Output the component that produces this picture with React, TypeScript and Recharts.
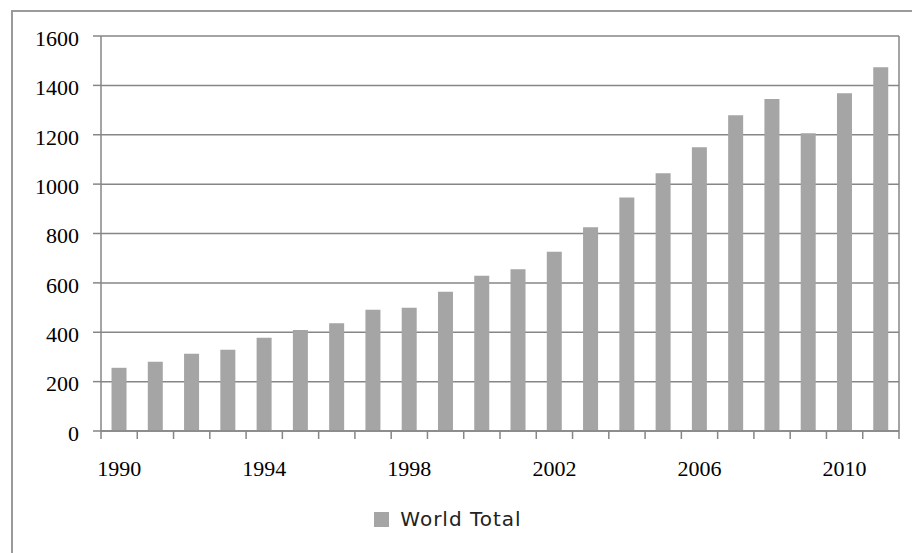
import React from "react";
import { BarChart, Bar, XAxis, YAxis, CartesianGrid, Legend } from "recharts";

const years = [
  "1990", "1991", "1992", "1993", "1994", "1995", "1996", "1997", "1998", "1999",
  "2000", "2001", "2002", "2003", "2004", "2005", "2006", "2007", "2008", "2009",
  "2010", "2011",
];
const worldTotal = [
  256, 281, 313, 329, 378, 409, 436, 491, 499, 564,
  629, 655, 726, 825, 946, 1044, 1149, 1279, 1345, 1206,
  1368, 1473,
];
const yTicks = [0, 200, 400, 600, 800, 1000, 1200, 1400, 1600];
const labelEvery = 4;
const seriesName = "World Total";

const data = years.map((y, i) => ({ year: y, total: worldTotal[i] }));

const GRID = "#868686";
const BAR = "#A5A5A5";
const TICK_FONT = "'Liberation Serif', 'DejaVu Serif', serif";

const XTick = (props: any) => {
  const { x, y, payload, index, visibleTicksCount } = props;
  const half = payload && typeof payload.offset === "number" && payload.offset > 0 ? payload.offset : 18.14;
  const last = (visibleTicksCount ?? years.length) - 1;
  return (
    <g>
      <line x1={x - half} x2={x - half} y1={y} y2={y + 8} stroke={GRID} strokeWidth={1.5} />
      {index === last && (
        <line x1={x + half} x2={x + half} y1={y} y2={y + 8} stroke={GRID} strokeWidth={1.5} />
      )}
      {index % labelEvery === 0 && (
        <text
          x={x}
          y={y + 29}
          dy="0.71em"
          textAnchor="middle"
          fontFamily={TICK_FONT}
          fontSize={22}
          fill="#000"
        >
          {payload.value}
        </text>
      )}
    </g>
  );
};

const YTick = (props: any) => {
  const { x, y, payload } = props;
  return (
    <text
      x={x}
      y={y + 2}
      dy="0.355em"
      textAnchor="end"
      fontFamily={TICK_FONT}
      fontSize={22}
      fill="#000"
    >
      {payload.value}
    </text>
  );
};

const LegendContent = () => (
  <div
    style={{
      display: "flex",
      alignItems: "center",
      justifyContent: "center",
      height: 40,
      paddingRight: 12,
      boxSizing: "border-box",
    }}
  >
    <span style={{ display: "inline-block", width: 15, height: 15, background: BAR, marginRight: 11 }} />
    <span
      style={{
        fontFamily: "'DejaVu Sans', sans-serif",
        fontSize: 20,
        letterSpacing: 1,
        color: "#222",
        lineHeight: "20px",
      }}
    >
      {seriesName}
    </span>
  </div>
);

export default function App() {
  return (
    <div style={{ position: "relative", width: 912, height: 545 }}>
      <div
        style={{
          position: "absolute",
          left: 3,
          top: 2,
          width: 909,
          height: 543,
          borderLeft: "2px solid #9a9a9a",
          borderTop: "2px solid #9a9a9a",
          boxSizing: "border-box",
        }}
      />
      <BarChart
        width={912}
        height={545}
        data={data}
        margin={{ top: 28, right: 20, bottom: 14, left: 0 }}
        barCategoryGap="29%"
        style={{ position: "absolute", left: 0, top: 0 }}
      >
        <CartesianGrid vertical={false} stroke={GRID} strokeWidth={1.5} />
        <XAxis
          dataKey="year"
          interval={0}
          tickLine={false}
          tickSize={0}
          tickMargin={0}
          axisLine={{ stroke: GRID, strokeWidth: 1.5 }}
          height={68}
          tick={<XTick />}
        />
        <YAxis
          domain={[0, 1600]}
          ticks={yTicks}
          interval={0}
          width={93}
          tickSize={8}
          tickMargin={14}
          tickLine={{ stroke: GRID, strokeWidth: 1.5 }}
          axisLine={{ stroke: GRID, strokeWidth: 1.5 }}
          tick={<YTick />}
        />
        <YAxis
          yAxisId="right"
          orientation="right"
          domain={[0, 1600]}
          width={1}
          tick={false}
          tickLine={false}
          axisLine={{ stroke: GRID, strokeWidth: 1.5 }}
        />
        <Legend
          verticalAlign="bottom"
          height={40}
          wrapperStyle={{ height: 40 }}
          content={<LegendContent />}
        />
        <Bar dataKey="total" name={seriesName} fill={BAR} isAnimationActive={false} />
      </BarChart>
    </div>
  );
}
